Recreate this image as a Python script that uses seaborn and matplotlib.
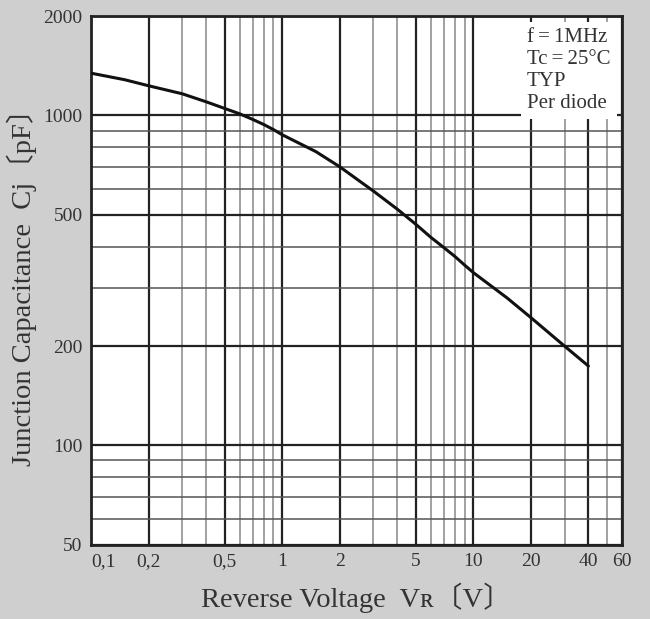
import numpy as np
import pandas as pd
import matplotlib
matplotlib.use("Agg")
import matplotlib.pyplot as plt
import seaborn as sns
from matplotlib.ticker import FixedLocator, NullFormatter

# 接面電容 vs 逆向電壓 (讀圖取值)
vr_volts = [0.1, 0.15, 0.2, 0.3, 0.4, 0.5, 0.6, 0.7, 0.8, 0.9, 1.0, 1.5, 2.0, 3.0, 4.0, 5.0,
            6.0, 7.0, 8.0, 9.0, 10.0, 15.0, 20.0, 30.0, 40.0]
cj_pf = [1343, 1283, 1230, 1163, 1100, 1050, 1011, 973, 939, 906, 874, 777, 699, 590, 520, 468,
         427, 398, 374, 352, 334, 280, 244, 200, 174]

x_major = [0.1, 0.2, 0.5, 1, 2, 5, 10, 20, 40, 60]
x_major_labels = ["0,1", "0,2", "0,5", "1", "2", "5", "10", "20", "40", "60"]
x_minor = [0.3, 0.4, 0.6, 0.7, 0.8, 0.9, 3, 4, 6, 7, 8, 9, 30, 50]
y_major = [50, 100, 200, 500, 1000, 2000]
y_major_labels = ["50", "100", "200", "500", "1000", "2000"]
y_minor = [60, 70, 80, 90, 300, 400, 600, 700, 800, 900]
note_lines = ["f\u2009=\u20091MHz", "Tc\u2009=\u200925\u00b0C", "TYP", "Per diode"]

sns.set_style("white")
plt.rcParams['font.family'] = ['Liberation Serif', 'DejaVu Serif', 'Noto Sans CJK JP']
plt.rcParams['axes.unicode_minus'] = False

df = pd.DataFrame({"VR": vr_volts, "Cj": cj_pf})

fig = plt.figure(figsize=(6.5, 6.19), dpi=100, facecolor="#cfcfcf")
ax = fig.add_axes([0.14, 0.12, 0.817, 0.854])
ax.set_facecolor("white")

sns.lineplot(data=df, x="VR", y="Cj", ax=ax, color="#111111", linewidth=2.2, zorder=5)

ax.set_xscale("log")
ax.set_yscale("log")
ax.set_xlim(0.1, 60)
ax.set_ylim(50, 2000)

ax.xaxis.set_major_locator(FixedLocator(x_major))
ax.xaxis.set_minor_locator(FixedLocator(x_minor))
ax.yaxis.set_major_locator(FixedLocator(y_major))
ax.yaxis.set_minor_locator(FixedLocator(y_minor))
ax.set_xticklabels(x_major_labels)
ax.set_yticklabels(y_major_labels)
ax.xaxis.set_minor_formatter(NullFormatter())
ax.yaxis.set_minor_formatter(NullFormatter())

ax.grid(which="major", axis="both", color="#222222", linewidth=1.6)
ax.grid(which="minor", axis="x", color="#9a9a9a", linewidth=1.3)
ax.grid(which="minor", axis="y", color="#555555", linewidth=1.1)
ax.set_axisbelow(True)

ax.tick_params(which="both", length=0, labelsize=14, labelcolor="#333333", pad=6)
xt = ax.get_xticklabels()
xt[0].set_horizontalalignment("left")

for s in ax.spines.values():
    s.set_color("#222222")
    s.set_linewidth(2)
    s.set_visible(True)

ax.set_xlabel("Reverse Voltage  V\u0280\u3014V\u3015", fontsize=20.5, color="#333333", labelpad=9)
ax.set_ylabel("Junction Capacitance  Cj\u3014pF\u3015", fontsize=20.5, color="#333333", labelpad=5)

# 右上角條件說明 (白底蓋住格線)
ax.text(0.821, 0.977, "\n".join(note_lines), transform=ax.transAxes, ha="left", va="top",
        fontsize=15, color="#333333", linespacing=1.2, zorder=2,
        bbox=dict(facecolor="white", edgecolor="none", pad=4.5))

fig.savefig("out.png", dpi=100, facecolor=fig.get_facecolor())
plt.close(fig)
